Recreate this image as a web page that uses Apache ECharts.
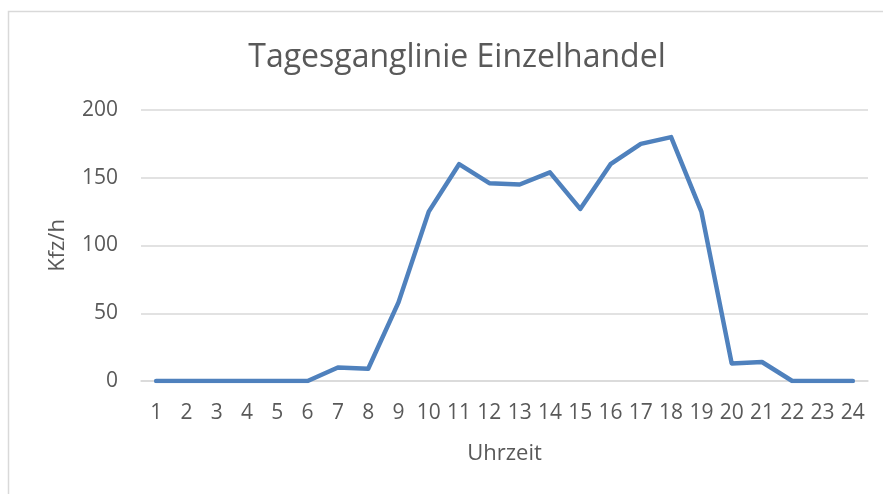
<!DOCTYPE html>
<html lang="de">
<head>
    <meta charset="UTF-8">
    <title>Tagesganglinie Einzelhandel</title>
    <style>
        html, body { margin: 0; padding: 0; background: #fff; }
        #container { width: 883px; height: 494px; }
    </style>
    <script src="https://cdn.jsdelivr.net/npm/echarts@6/dist/echarts.min.js"></script>
</head>
<body>
<div id="container"></div>
<script type="text/javascript">
    // Daten
    var stunden = ['1','2','3','4','5','6','7','8','9','10','11','12',
                   '13','14','15','16','17','18','19','20','21','22','23','24'];
    var kfzProStunde = [0, 0, 0, 0, 0, 0, 10, 9, 58, 125, 160, 146,
                        145, 154, 127, 160, 175, 180, 125, 13, 14, 0, 0, 0];
    var yTicks = [0, 50, 100, 150, 200];

    var myChart = echarts.init(document.getElementById('container'));
    var grau = '#595959';
    var font = '"Open Sans", sans-serif';

    var option = {
        backgroundColor: '#ffffff',
        textStyle: { fontFamily: font },
        title: {
            text: 'Tagesganglinie Einzelhandel',
            left: 452,
            textAlign: 'center',
            top: 37,
            textStyle: { color: grau, fontSize: 32, fontWeight: 'normal', fontFamily: font }
        },
        graphic: [{
            type: 'rect',
            shape: { x: 8.5, y: 11.5, width: 1000, height: 1000 },
            style: { fill: 'none', stroke: '#d9d9d9', lineWidth: 1.5 },
            silent: true
        }],
        grid: { left: 141, right: 15, top: 110, bottom: 113 },
        xAxis: {
            type: 'category',
            data: stunden,
            boundaryGap: true,
            name: 'Uhrzeit',
            nameLocation: 'middle',
            nameGap: 62,
            nameTextStyle: { color: grau, fontSize: 22 },
            axisLine: { lineStyle: { color: '#d9d9d9', width: 1.5 } },
            axisTick: { show: false },
            axisLabel: { color: grau, fontSize: 21, margin: 22, interval: 0 }
        },
        yAxis: {
            type: 'value',
            min: yTicks[0],
            max: yTicks[yTicks.length - 1],
            interval: 50,
            name: 'Kfz/h',
            nameLocation: 'middle',
            nameRotate: 90,
            nameGap: 72,
            nameTextStyle: { color: grau, fontSize: 22 },
            axisLine: { show: false },
            axisTick: { show: false },
            axisLabel: { color: grau, fontSize: 21, margin: 23 },
            splitLine: { lineStyle: { color: '#d9d9d9', width: 1.5 } }
        },
        series: [{
            type: 'line',
            data: kfzProStunde,
            symbol: 'none',
            lineStyle: { color: '#4f81bd', width: 4.5, join: 'round', cap: 'round' },
            itemStyle: { color: '#4f81bd' },
            animation: false
        }],
        animation: false
    };

    myChart.setOption(option);
</script>
</body>
</html>
